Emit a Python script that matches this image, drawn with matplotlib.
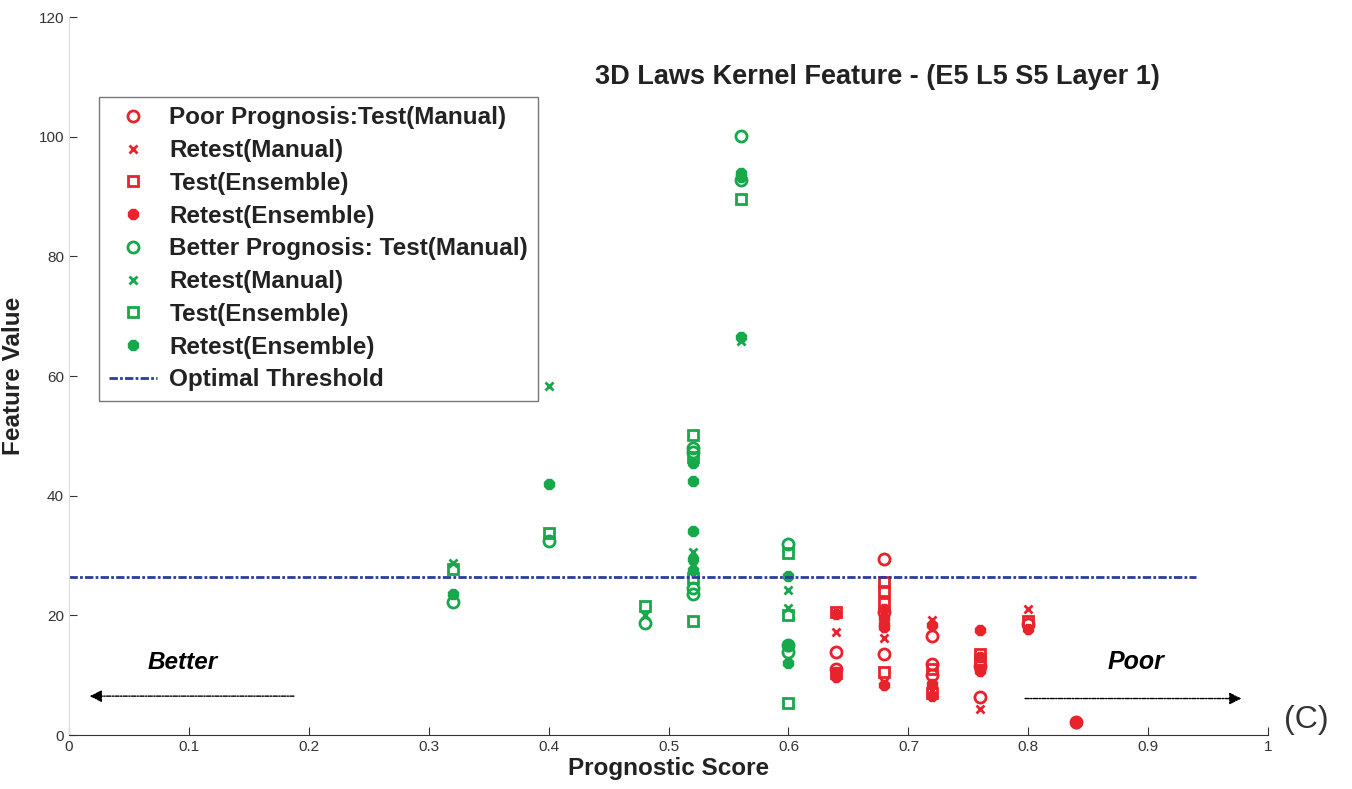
import matplotlib
matplotlib.use("Agg")
import matplotlib.pyplot as plt

plt.rcParams['font.family'] = ['Liberation Sans', 'DejaVu Sans']

red = '#e8232b'
green = '#16a84b'
blue = '#2b3d9c'

# Better prognosis (green)
g_test_man_x = [0.32, 0.40, 0.48, 0.52, 0.52, 0.52, 0.52, 0.56, 0.56, 0.60, 0.60, 0.60]
g_test_man_y = [22.3, 32.5, 18.8, 48.0, 47.3, 23.5, 24.5, 100.2, 92.7, 32.0, 15.0, 13.8]
g_retest_man_x = [0.32, 0.40, 0.48, 0.52, 0.52, 0.56, 0.60, 0.60]
g_retest_man_y = [28.7, 58.3, 20.0, 30.6, 28.3, 65.8, 24.3, 21.3]
g_test_ens_x = [0.32, 0.40, 0.48, 0.52, 0.52, 0.52, 0.52, 0.56, 0.60, 0.60, 0.60]
g_test_ens_y = [27.8, 33.8, 21.5, 50.1, 46.5, 26.3, 19.1, 89.6, 30.5, 20.0, 5.4]
g_retest_ens_x = [0.32, 0.40, 0.52, 0.52, 0.52, 0.52, 0.52, 0.56, 0.56, 0.56, 0.60, 0.60, 0.60]
g_retest_ens_y = [23.5, 41.9, 45.5, 42.4, 34.1, 29.5, 27.5, 94.0, 93.3, 66.6, 26.6, 14.8, 12.0]

# Poor prognosis (red)
r_test_man_x = [0.64, 0.64, 0.68, 0.68, 0.68, 0.72, 0.72, 0.72, 0.76, 0.76, 0.80, 0.84]
r_test_man_y = [13.9, 11.0, 29.5, 13.5, 20.5, 16.5, 11.8, 10.0, 11.5, 6.3, 18.5, 2.1]
r_retest_man_x = [0.64, 0.68, 0.68, 0.72, 0.72, 0.76, 0.80]
r_retest_man_y = [17.2, 16.3, 8.8, 19.2, 7.5, 4.3, 21.1]
r_test_ens_x = [0.64, 0.64, 0.68, 0.68, 0.68, 0.68, 0.72, 0.72, 0.76, 0.76, 0.80]
r_test_ens_y = [20.5, 10.3, 25.5, 24.0, 22.0, 10.5, 11.0, 7.0, 13.5, 12.5, 19.0]
r_retest_ens_x = [0.64, 0.64, 0.64, 0.68, 0.68, 0.68, 0.68, 0.68, 0.72, 0.72, 0.72,
                  0.76, 0.76, 0.76, 0.76, 0.80, 0.84]
r_retest_ens_y = [20.3, 10.5, 9.7, 21.0, 19.5, 18.5, 18.0, 8.3, 18.4, 8.5, 6.5,
                  17.6, 13.0, 11.0, 10.7, 17.8, 2.0]

threshold = 26.4

fig = plt.figure(figsize=(13.52, 7.89), dpi=100)
ax = fig.add_axes([0.051, 0.0684, 0.887, 0.910])

ms = 8
mew = 2
ax.plot(r_test_man_x, r_test_man_y, 'o', color=red, mfc='none', ms=ms, mew=mew, label='Poor Prognosis:Test(Manual)')
ax.plot(r_retest_man_x, r_retest_man_y, 'x', color=red, ms=6, mew=mew, label='Retest(Manual)')
ax.plot(r_test_ens_x, r_test_ens_y, 's', color=red, mfc='none', ms=7, mew=mew, label='Test(Ensemble)')
ax.plot(r_retest_ens_x, r_retest_ens_y, '8', color=red, ms=8, mew=1, label='Retest(Ensemble)')
ax.plot(g_test_man_x, g_test_man_y, 'o', color=green, mfc='none', ms=ms, mew=mew, label='Better Prognosis: Test(Manual)')
ax.plot(g_retest_man_x, g_retest_man_y, 'x', color=green, ms=6, mew=mew, label='Retest(Manual)')
ax.plot(g_test_ens_x, g_test_ens_y, 's', color=green, mfc='none', ms=7, mew=mew, label='Test(Ensemble)')
ax.plot(g_retest_ens_x, g_retest_ens_y, '8', color=green, ms=8, mew=1, label='Retest(Ensemble)')
ax.plot([0, 0.94], [threshold, threshold], color=blue, lw=2, ls=(0, (3, 0.8, 1, 0.8)), label='Optimal Threshold')

ax.set_xlim(0, 1)
ax.set_ylim(0, 120)
ax.set_xticks([i / 10 for i in range(11)])
ax.set_xticklabels(['0', '0.1', '0.2', '0.3', '0.4', '0.5', '0.6', '0.7', '0.8', '0.9', '1'])
ax.set_yticks(range(0, 121, 20))
ax.tick_params(direction='in', length=6, labelsize=11, colors='#333333')
for s in ['top', 'right']:
    ax.spines[s].set_visible(False)
ax.spines['left'].set_color('#dddddd')
ax.spines['bottom'].set_color('#333333')

ax.set_xlabel('Prognostic Score', fontsize=17.5, fontweight='bold', color='#222222', labelpad=2)
ax.set_ylabel('Feature Value', fontsize=17.5, fontweight='bold', color='#222222', labelpad=10)

ax.text(0.674, 110, '3D Laws Kernel Feature - (E5 L5 S5 Layer 1)', ha='center', va='center',
        fontsize=19.5, fontweight='bold', color='#222222')

ax.annotate('', xy=(0.015, 6.5), xytext=(0.19, 6.5),
            arrowprops=dict(arrowstyle='-|>', color='black', lw=1, ls=(0, (3, 1, 1, 1)), mutation_scale=18))
ax.text(0.095, 12.2, 'Better', ha='center', va='center', fontsize=17.5, fontweight='bold', style='italic')
ax.annotate('', xy=(0.98, 6.1), xytext=(0.795, 6.1),
            arrowprops=dict(arrowstyle='-|>', color='black', lw=1, ls=(0, (3, 1, 1, 1)), mutation_scale=18))
ax.text(0.89, 12.2, 'Poor', ha='center', va='center', fontsize=18, fontweight='bold', style='italic')

fig.text(0.966, 0.088, '(C)', ha='center', va='center', fontsize=23, color='#333333')

leg = ax.legend(loc='upper left', bbox_to_anchor=(0.025, 0.889), fontsize=17.5, frameon=True,
                fancybox=False, edgecolor='#555555', handlelength=2.0, labelspacing=0.4,
                borderpad=0.4, handletextpad=0.5, borderaxespad=0)
leg.get_frame().set_linewidth(1)
for t in leg.get_texts():
    t.set_fontweight('bold')
    t.set_color('#222222')

fig.savefig('out.png', dpi=100)
